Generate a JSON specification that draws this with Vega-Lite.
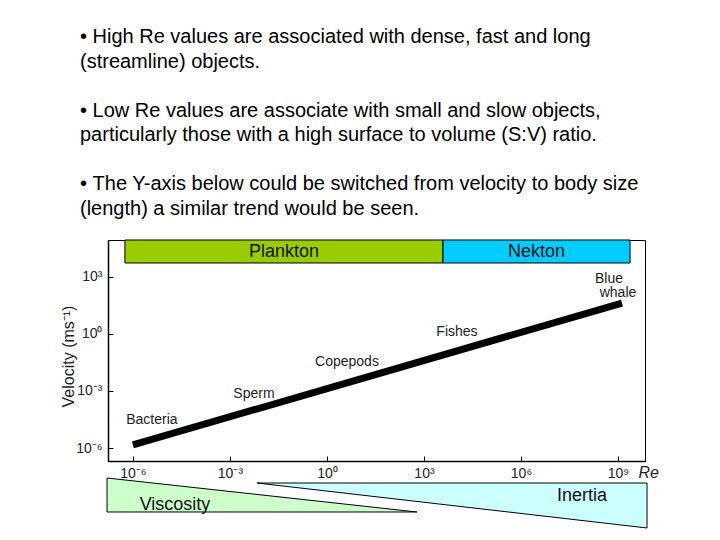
{
  "$schema": "https://vega.github.io/schema/vega-lite/v6.json",
  "width": 537,
  "height": 221,
  "autosize": "none",
  "padding": {"left": 108, "top": 240, "right": 75, "bottom": 79},
  "background": "white",
  "config": {
    "font": "Liberation Sans",
    "view": {"stroke": "black", "strokeWidth": 1},
    "axis": {"grid": false, "domainColor": "black", "tickColor": "black", "labelColor": "#222", "labelFontSize": 14, "titleColor": "#222", "titleFontWeight": "normal"}
  },
  "title": {
    "text": [
      "• High Re values are associated with dense, fast and long",
      "(streamline) objects.",
      "\u2800",
      "• Low Re values are associate with small and slow objects,",
      "particularly those with a high surface to volume (S:V) ratio.",
      "\u2800",
      "• The Y-axis below could be switched from velocity to body size",
      "(length) a similar trend would be seen."
    ],
    "anchor": "start",
    "frame": "group",
    "dx": -28,
    "fontSize": 20,
    "fontWeight": "normal",
    "font": "Liberation Sans",
    "color": "black",
    "lineHeight": 24.5,
    "offset": 21
  },
  "datasets": {
    "bands": [
      {"name": "Plankton", "Re": 5.66e-7, "Re2": 3882, "v": 5458, "v2": 88500},
      {"name": "Nekton", "Re": 3882, "Re2": 2.36e9, "v": 5458, "v2": 88500}
    ],
    "bandLabels": [
      {"label": "Plankton", "Re": 0.0469, "v": 20700},
      {"label": "Nekton", "Re": 3.03e6, "v": 20700}
    ],
    "wedges": [
      {"name": "Viscosity", "Re": 1.585e-7, "v": 2.636e-8, "v2": 4.285e-10},
      {"name": "Viscosity", "Re": 609.5, "v": 4.285e-10, "v2": 4.285e-10},
      {"name": "Inertia", "Re": 6.84e-3, "v": 1.439e-8, "v2": 1.439e-8},
      {"name": "Inertia", "Re": 7.9e9, "v": 1.439e-8, "v2": 6.17e-11}
    ],
    "wedgeLabels": [
      {"label": "Viscosity", "Re": 2.0e-5, "v": 1e-9},
      {"label": "Inertia", "Re": 7.73e7, "v": 2.98e-9}
    ],
    "trend": [
      {"Re": 1e-6, "v": 1.45e-6},
      {"Re": 1.33e9, "v": 42.7}
    ],
    "organisms": [
      {"label": "Bacteria", "Re": 3.87e-6, "v": 2.98e-5},
      {"label": "Sperm", "Re": 5.53e-3, "v": 6.95e-4},
      {"label": "Copepods", "Re": 4.16, "v": 0.0336},
      {"label": "Fishes", "Re": 1.05e4, "v": 1.27},
      {"label": "Blue", "Re": 5.28e8, "v": 800},
      {"label": "whale", "Re": 1.0e9, "v": 140}
    ]
  },
  "encoding": {
    "x": {
      "field": "Re",
      "type": "quantitative",
      "scale": {"type": "log", "domain": [1.698e-7, 6.84e9], "nice": false},
      "axis": {
        "values": [1e-6, 1e-3, 1, 1e3, 1e6, 1e9],
        "labelExpr": "'10' + replace(replace(replace(replace(replace('' + round(log(datum.value)/LN10), '-', '⁻'), '0', '⁰'), '3', '³'), '6', '⁶'), '9', '⁹')",
        "title": "Re",
        "titleFontStyle": "italic",
        "titleFontSize": 16,
        "titleX": 530,
        "titleY": 11,
        "titleAlign": "left",
        "titleBaseline": "middle",
        "tickSize": -5,
        "labelPadding": 10,
        "domainWidth": 1.5
      }
    },
    "y": {
      "field": "v",
      "type": "quantitative",
      "scale": {"type": "log", "domain": [2.07e-7, 88500], "nice": false},
      "axis": {
        "values": [1e-6, 1e-3, 1, 1e3],
        "labelExpr": "'10' + replace(replace(replace(replace(replace('' + round(log(datum.value)/LN10), '-', '⁻'), '0', '⁰'), '3', '³'), '6', '⁶'), '9', '⁹')",
        "title": "Velocity (ms⁻¹)",
        "titleFontSize": 16,
        "titleX": -40,
        "titleY": 116,
        "titleAngle": -90,
        "titleAlign": "center",
        "titleBaseline": "middle",
        "tickSize": -5,
        "labelPadding": 11,
        "domainWidth": 1.5
      }
    }
  },
  "layer": [
    {
      "data": {"name": "bands"},
      "mark": {"type": "rect", "stroke": "black", "strokeWidth": 1},
      "encoding": {
        "x2": {"field": "Re2"},
        "y2": {"field": "v2"},
        "color": {"field": "name", "type": "nominal", "legend": null,
          "scale": {"domain": ["Plankton", "Nekton", "Viscosity", "Inertia"], "range": ["#99CC00", "#00CCFF", "#CCFFCC", "#CCFFFF"]}}
      }
    },
    {
      "data": {"name": "bandLabels"},
      "mark": {"type": "text", "fontSize": 18, "color": "#111", "baseline": "middle", "align": "center"},
      "encoding": {"text": {"field": "label"}}
    },
    {
      "data": {"name": "wedges"},
      "mark": {"type": "area", "stroke": "black", "strokeWidth": 1, "opacity": 1},
      "encoding": {
        "y2": {"field": "v2"},
        "color": {"field": "name", "type": "nominal", "legend": null}
      }
    },
    {
      "data": {"name": "wedgeLabels"},
      "mark": {"type": "text", "fontSize": 18, "color": "#111", "baseline": "middle", "align": "center"},
      "encoding": {"text": {"field": "label"}}
    },
    {
      "data": {"name": "trend"},
      "mark": {"type": "line", "color": "black", "strokeWidth": 7},
      "encoding": {}
    },
    {
      "data": {"name": "organisms"},
      "mark": {"type": "text", "fontSize": 14, "color": "#222", "baseline": "middle", "align": "center"},
      "encoding": {"text": {"field": "label"}}
    }
  ]
}
